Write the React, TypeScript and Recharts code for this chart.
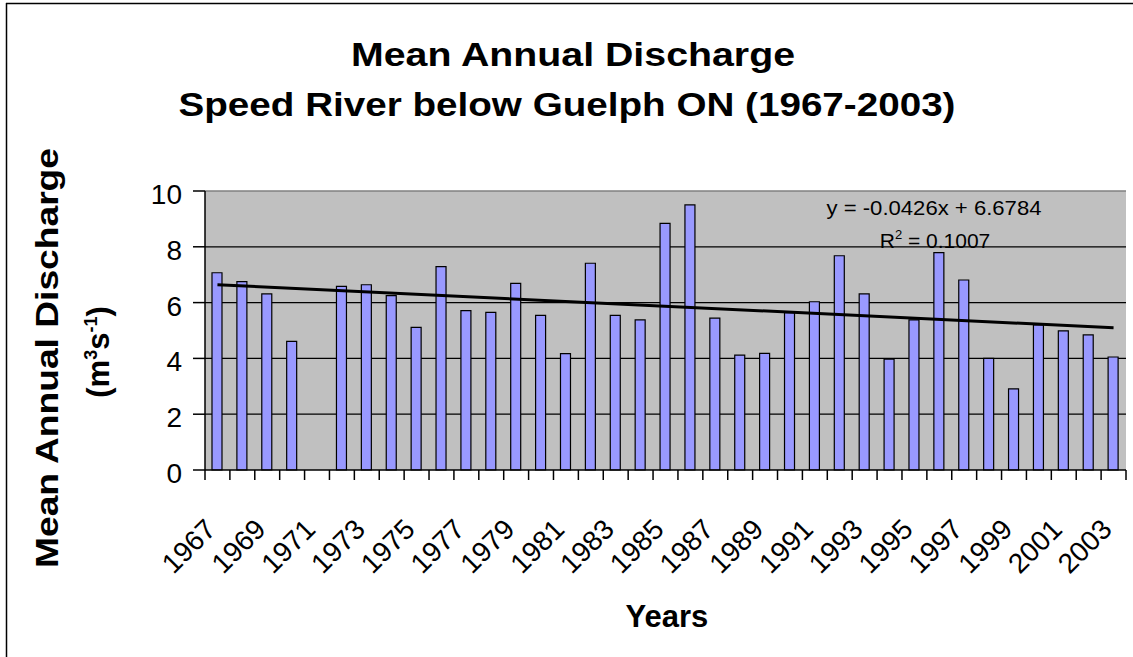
import React from 'react';
import { BarChart, Bar, XAxis, YAxis, CartesianGrid, ReferenceLine } from 'recharts';

const years = [
  '1967', '1968', '1969', '1970', '1971', '1972', '1973', '1974', '1975', '1976',
  '1977', '1978', '1979', '1980', '1981', '1982', '1983', '1984', '1985', '1986',
  '1987', '1988', '1989', '1990', '1991', '1992', '1993', '1994', '1995', '1996',
  '1997', '1998', '1999', '2000', '2001', '2002', '2003',
];

const discharge: (number | null)[] = [
  7.07, 6.75, 6.31, 4.61, null, 6.58, 6.64, 6.25, 5.11, 7.29,
  5.71, 5.65, 6.69, 5.54, 4.17, 7.41, 5.54, 5.38, 8.84, 9.5,
  5.44, 4.12, 4.18, 5.64, 6.03, 7.68, 6.31, 3.97, 5.38, 7.79,
  6.81, 4.0, 2.91, 5.2, 4.99, 4.84, 4.05,
];

const yTicks = [0, 2, 4, 6, 8, 10];
const gridValues = [2, 4, 6, 8];

const trendStart = { year: '1967', value: 6.64 };
const trendEnd = { year: '2003', value: 5.1 };

const titleLine1 = 'Mean Annual Discharge';
const titleLine2 = 'Speed River below Guelph ON (1967-2003)';
const yTitle = 'Mean Annual Discharge';
const xTitle = 'Years';
const equation = 'y = -0.0426x + 6.6784';
const rSquared = '0.1007';

const data = years.map((year, i) => ({ year, value: discharge[i] }));

const FONT = '"Liberation Sans", Arial, Helvetica, sans-serif';

const CHART_W = 1133;
const CHART_H = 657;
const MARGIN = { top: 191, right: 7, bottom: 157, left: 145 };
const Y_AXIS_W = 60;
const PLOT_W = CHART_W - MARGIN.left - MARGIN.right - Y_AXIS_W;
const HALF_BAND = PLOT_W / years.length / 2;

const XTick = (props: any) => {
  const { x, y, payload, index } = props;
  const isLast = index === years.length - 1;
  const showLabel = index % 2 === 0;
  return (
    <g>
      <path d={`M${x - HALF_BAND},${y}V${y + 10}`} stroke="#000" strokeWidth={1.5} fill="none" />
      {isLast && <path d={`M${x + HALF_BAND},${y}V${y + 10}`} stroke="#000" strokeWidth={1.5} fill="none" />}
      {showLabel && (
        <text
          transform={`translate(${x},${y + 61}) rotate(-45)`}
          textAnchor="end"
          fontSize={28}
          fontFamily={FONT}
          fill="#000"
        >
          {payload.value}
        </text>
      )}
    </g>
  );
};

const YTick = (props: any) => {
  const { x, y, payload } = props;
  return (
    <g>
      <path d={`M${x + 11},${y}H${x + 23}`} stroke="#000" strokeWidth={1.5} fill="none" />
      <text x={x} y={y + 13} textAnchor="end" fontSize={28} fontFamily={FONT} fill="#000">
        {payload.value}
      </text>
    </g>
  );
};

export default function App() {
  return (
    <div style={{ position: 'absolute', left: 0, top: 0, width: CHART_W, height: CHART_H, background: '#fff' }}>
      <BarChart width={CHART_W} height={CHART_H} data={data} margin={MARGIN} barSize={10}>
        <CartesianGrid
          horizontal
          vertical={false}
          horizontalValues={gridValues}
          stroke="#000"
          strokeWidth={1.2}
          fill="#C0C0C0"
          fillOpacity={1}
        />
        <XAxis
          dataKey="year"
          height={30}
          interval={0}
          tickLine={false}
          tickSize={0}
          tickMargin={0}
          axisLine={{ stroke: '#000', strokeWidth: 1.5 }}
          tick={<XTick />}
        />
        <YAxis
          domain={[0, 10]}
          ticks={yTicks}
          interval={0}
          width={Y_AXIS_W}
          tickSize={12}
          tickMargin={11}
          tick={<YTick />}
          axisLine={{ stroke: '#000', strokeWidth: 1.5 }}
          tickLine={false}
        />
        <ReferenceLine y={10} stroke="#808080" strokeWidth={1.5} />
        <Bar dataKey="value" fill="#9999FF" stroke="#000" strokeWidth={1.2} isAnimationActive={false} />
        <ReferenceLine
          segment={[
            { x: trendStart.year, y: trendStart.value },
            { x: trendEnd.year, y: trendEnd.value },
          ]}
          stroke="#000"
          strokeWidth={3}
        />
      </BarChart>
      <svg
        width={CHART_W}
        height={CHART_H}
        style={{ position: 'absolute', left: 0, top: 0, pointerEvents: 'none' }}
        fontFamily={FONT}
      >
        <line x1={6.5} y1={3} x2={6.5} y2={657} stroke="#000" strokeWidth={1.5} />
        <line x1={6} y1={3.5} x2={1133} y2={3.5} stroke="#000" strokeWidth={1.5} />
        <text x={573} y={66} textAnchor="middle" fontSize={34} fontWeight="bold" textLength={444} lengthAdjust="spacingAndGlyphs">
          {titleLine1}
        </text>
        <text x={567} y={116} textAnchor="middle" fontSize={34} fontWeight="bold" textLength={777} lengthAdjust="spacingAndGlyphs">
          {titleLine2}
        </text>
        <text
          transform="translate(57.5,358) rotate(-90)"
          textAnchor="middle"
          fontSize={31}
          fontWeight="bold"
          textLength={420}
          lengthAdjust="spacingAndGlyphs"
        >
          {yTitle}
        </text>
        <text transform="translate(108.5,352) rotate(-90)" textAnchor="middle" fontSize={31} fontWeight="bold">
          <tspan>(m</tspan>
          <tspan dy={-12} fontSize={18}>3</tspan>
          <tspan dy={12}>s</tspan>
          <tspan dy={-12} fontSize={18}>-1</tspan>
          <tspan dy={12}>)</tspan>
        </text>
        <text x={667} y={627} textAnchor="middle" fontSize={31} fontWeight="bold">
          {xTitle}
        </text>
        <text x={934} y={215} textAnchor="middle" fontSize={21} textLength={215} lengthAdjust="spacingAndGlyphs">
          {equation}
        </text>
        <text x={935} y={248} textAnchor="middle" fontSize={21}>
          <tspan>R</tspan>
          <tspan dy={-9} fontSize={13}>2</tspan>
          <tspan dy={9}>{` = ${rSquared}`}</tspan>
        </text>
      </svg>
    </div>
  );
}
